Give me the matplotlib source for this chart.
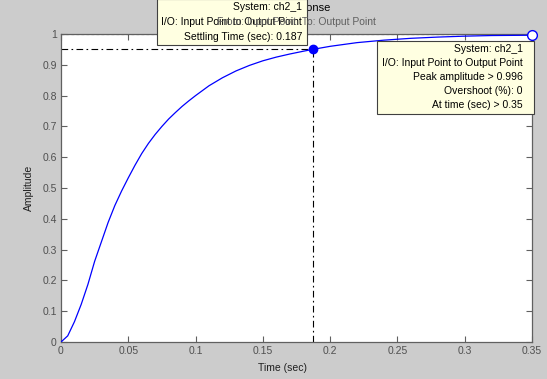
import matplotlib
matplotlib.use("Agg")
import matplotlib.pyplot as plt
from matplotlib.patches import Rectangle

plt.rcParams['font.family'] = ['Liberation Sans', 'DejaVu Sans']

# Step response
time = [0, 0.005, 0.01, 0.015, 0.02, 0.025, 0.03, 0.035, 0.04, 0.045, 0.05,
        0.055, 0.06, 0.065, 0.07, 0.075, 0.08, 0.085, 0.09, 0.095, 0.1, 0.11,
        0.12, 0.13, 0.14, 0.15, 0.16, 0.17, 0.18, 0.187, 0.2, 0.22, 0.24, 0.26,
        0.28, 0.3, 0.32, 0.35]
amplitude = [0, 0.02, 0.066, 0.122, 0.187, 0.262, 0.325, 0.388, 0.443, 0.49, 0.533,
             0.574, 0.612, 0.645, 0.674, 0.70, 0.724, 0.745, 0.765, 0.783, 0.80, 0.832,
             0.858, 0.88, 0.898, 0.913, 0.925, 0.935, 0.944, 0.95, 0.96, 0.972, 0.98,
             0.986, 0.99, 0.993, 0.995, 0.996]

settling_time = 0.187
settling_level = 0.95
final_value = 1.0
peak_time = 0.35
peak_amp = 0.996

xticks = [0, 0.05, 0.1, 0.15, 0.2, 0.25, 0.3, 0.35]
xticklabels = ['0', '0.05', '0.1', '0.15', '0.2', '0.25', '0.3', '0.35']
yticks = [0, 0.1, 0.2, 0.3, 0.4, 0.5, 0.6, 0.7, 0.8, 0.9, 1]
yticklabels = ['0', '0.1', '0.2', '0.3', '0.4', '0.5', '0.6', '0.7', '0.8', '0.9', '1']

tip1 = ["System: ch2_1", "I/O: Input Point to Output Point", "Settling Time (sec): 0.187"]
tip2 = ["System: ch2_1", "I/O: Input Point to Output Point", "Peak amplitude > 0.996",
        "Overshoot (%): 0", "At time (sec) > 0.35"]

W, H = 547, 379
fig = plt.figure(figsize=(W / 100, H / 100), dpi=100, facecolor='#cccccc')
ax = fig.add_axes([61 / W, 1 - 342 / H, (532 - 61) / W, (342 - 34) / H])
ax.set_facecolor('white')

ax.plot(time, amplitude, color='#0000ff', lw=0.9, zorder=3)
ax.axhline(final_value, color='black', ls=(0, (2.5, 2)), lw=0.8, zorder=2)
ax.plot([0, settling_time], [settling_level, settling_level], color='black',
        ls=(0, (6, 3, 1.5, 3)), lw=0.8, zorder=2)
ax.plot([settling_time, settling_time], [0, settling_level], color='black',
        ls=(0, (6, 3, 1.5, 3)), lw=0.8, zorder=2)
ax.plot([settling_time], [settling_level], 'o', color='#0000ff', ms=6, zorder=4)
ax.plot([peak_time], [peak_amp], 'o', mfc='white', mec='#0000ff', ms=7, mew=1,
        zorder=4, clip_on=False)

ax.set_xlim(0, 0.35)
ax.set_ylim(0, 1)
ax.set_xticks(xticks)
ax.set_xticklabels(xticklabels)
ax.set_yticks(yticks)
ax.set_yticklabels(yticklabels)
ax.tick_params(direction='in', length=4, width=0.8, color='#606060',
               labelcolor='#505050', labelsize=7.5, top=True, right=True, pad=3)
for s in ax.spines.values():
    s.set_color('#606060')
    s.set_linewidth(0.9)

ax.set_xlabel('Time (sec)', fontsize=7.5, color='#202020')
ax.xaxis.set_label_coords((282 - 61) / 471, -(363 - 342) / 308)
ax.set_ylabel('Amplitude', fontsize=7.5, color='#202020')
ax.yaxis.set_label_coords(-(61 - 34) / 471, 0.5)

# Title (partly hidden behind the first data tip)
fig.text(292 / W, 1 - 8 / H, 'Step Response', ha='center', va='center',
         fontsize=8, color='black', zorder=1)

# Data tip 1
fig.patches.append(Rectangle((157 / W, 1 - 45 / H), (307 - 157) / W, 46 / H,
                             transform=fig.transFigure, facecolor='#ffffe1',
                             edgecolor='#404040', lw=0.8, zorder=5))
for i, t in enumerate(tip1):
    fig.text(302 / W, 1 - (7 + 15 * i) / H, t, ha='right', va='center',
             fontsize=7.5, color='black', zorder=6)

# Subtitle drawn over the tip
fig.text(296 / W, 1 - 22 / H, 'From: Input Point  To: Output Point', ha='center',
         va='center', fontsize=7.5, color='#606060', zorder=7)

# Data tip 2
fig.patches.append(Rectangle((377 / W, 1 - 114 / H), (534 - 377) / W, (114 - 41) / H,
                             transform=fig.transFigure, facecolor='#ffffe1',
                             edgecolor='#404040', lw=0.8, zorder=5))
for i, t in enumerate(tip2):
    fig.text(523 / W, 1 - (49 + 14 * i) / H, t, ha='right', va='center',
             fontsize=7.5, color='black', zorder=6)

fig.savefig('out.png', dpi=100, facecolor=fig.get_facecolor())
